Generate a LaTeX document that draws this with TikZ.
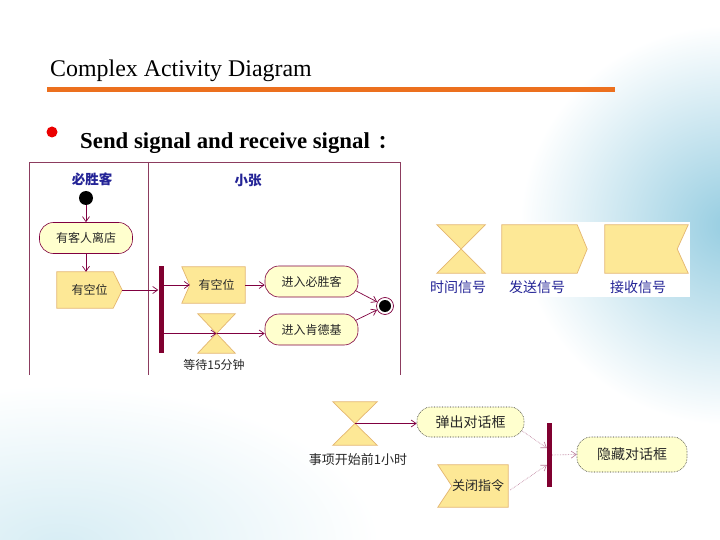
\documentclass[tikz,border=0pt]{standalone}
\usepackage{fontspec}
\setmainfont{Liberation Serif}
\newfontfamily\cjk{Noto Sans CJK SC}
\usetikzlibrary{arrows.meta,calc}
\definecolor{maroon}{RGB}{128,0,64}
\definecolor{barc}{RGB}{128,0,48}
\definecolor{lanec}{RGB}{140,60,95}
\definecolor{actfill}{RGB}{255,255,206}
\definecolor{sigfill}{RGB}{253,232,150}
\definecolor{sigline}{RGB}{228,182,112}
\definecolor{lblue}{RGB}{35,35,150}
\definecolor{orangeline}{RGB}{236,112,30}
\definecolor{bulletred}{RGB}{235,0,0}
\definecolor{txt}{RGB}{40,40,40}
\definecolor{faint}{RGB}{185,120,150}
\definecolor{bgblue}{RGB}{150,205,225}
\definecolor{bgblue2}{RGB}{215,237,244}
\pgfdeclarelayer{bg}
\pgfsetlayers{bg,main}
\newcommand\sendshape[2]{(#1.north west) -- ($(#1.north east)+(-#2,0)$) -- (#1.east) -- ($(#1.south east)+(-#2,0)$) -- (#1.south west) -- cycle}
\newcommand\recvL[2]{(#1.north west) -- (#1.north east) -- (#1.south east) -- (#1.south west) -- ($(#1.west)+(#2,0)$) -- cycle}
\newcommand\recvR[2]{(#1.north west) -- (#1.north east) -- ($(#1.east)+(-#2,0)$) -- (#1.south east) -- (#1.south west) -- cycle}
\newcommand\hglass[1]{(#1.north west) -- (#1.north east) -- (#1.south west) -- (#1.south east) -- cycle}
\tikzset{
  arr/.style={draw=maroon, line width=0.7pt, -{Straight Barb[length=5pt,width=7pt]}},
  arrfaint/.style={draw=faint, line width=0.6pt, densely dotted, -{Straight Barb[length=5pt,width=7pt]}},
  act/.style={draw=maroon, line width=0.6pt, fill=actfill, rounded corners=14pt, minimum height=31pt, inner sep=0pt, text=txt, font=\cjk\fontsize{12}{12}\selectfont},
  actdot/.style={act, densely dotted, draw=txt, font=\cjk\fontsize{14}{14}\selectfont},
  sigbox/.style={inner sep=0pt, text=txt, font=\cjk\fontsize{12}{12}\selectfont},
  sigshape/.style={fill=sigfill, draw=sigline, line width=0.7pt},
  barnode/.style={fill=barc, inner sep=0pt, minimum width=5pt},
  lanehead/.style={text=lblue, font=\cjk\bfseries\fontsize{13.5}{14}\selectfont},
  symlabel/.style={text=lblue, font=\cjk\fontsize{14}{14}\selectfont},
  plainlabel/.style={text=txt, font=\cjk\fontsize{12}{12}\selectfont},
  lane/.style={draw=lanec, line width=0.7pt}
}
\begin{document}
\begin{tikzpicture}[x=1pt,y=-1pt]
\useasboundingbox (0,0) rectangle (720,540);
% background
\begin{pgfonlayer}{bg}
\begin{scope}
\clip (0,0) rectangle (720,540);
\fill[white] (0,0) rectangle (720,540);
\shade[inner color=bgblue, outer color=white] (730,225) ellipse (210 and 200);
\shade[inner color=bgblue2, outer color=white] (60,545) ellipse (320 and 160);
\end{scope}
\fill[white] (27,160) rectangle (401,375);
\fill[white] (423,222) rectangle (690,297);
\end{pgfonlayer}
% title
\node[anchor=base west, inner sep=0pt, font=\fontsize{23.9}{24}\selectfont] (title) at (50,77) {Complex Activity Diagram};
\draw[orangeline, line width=5pt] (47,90) -- (615,90);
\fill[bulletred] (52,132) circle (5.5);
\node[anchor=base west, inner sep=0pt, font=\bfseries\fontsize{22.8}{23}\selectfont] (sub) at (80,149) {Send signal and receive signal\hspace{9pt}{\cjk\bfseries\fontsize{18}{18}\selectfont ：}};
% swimlane frame
\draw[lane] (29,375) -- (29,162) -- (400,162) -- (400,375);
\draw[lane] (148,162) -- (148,375);
\node[lanehead] (lane1) at (92,179) {必胜客};
\node[lanehead] (lane2) at (248,180) {小张};
% top-left nodes
\fill[black] (86,198) circle (7);
\coordinate (start) at (86,198);
\node[act, minimum width=93pt] (a1) at (86,238) {有客人离店};
\node[sigbox, minimum width=65pt, minimum height=36pt] (s1) at (89.5,290) {有空位\hspace{6pt}};
\node[barnode, minimum height=87pt] (fork1) at (161,309.5) {};
\node[sigbox, minimum width=63pt, minimum height=36pt] (r1) at (213.5,285) {\hspace{6pt}有空位};
\node[sigbox, minimum width=37pt, minimum height=39pt] (h1) at (216.5,333.5) {};
\node[plainlabel] (h1l) at (214,365) {等待15分钟};
\node[act, minimum width=93pt] (a3) at (311.5,281.5) {进入必胜客};
\node[act, minimum width=93pt] (a4) at (311.5,329.5) {进入肯德基};
\node[circle, draw=maroon, line width=0.7pt, minimum size=17pt, inner sep=0pt] (fin) at (385,306) {};
\fill[black] (fin.center) circle (6);
\begin{pgfonlayer}{bg}
\filldraw[sigshape] \sendshape{s1}{9};
\filldraw[sigshape] \recvL{r1}{8};
\filldraw[sigshape] \hglass{h1};
\end{pgfonlayer}
\draw[arr] ($(start)+(0,7)$) -- (a1.north);
\draw[arr] (a1.south) -- (a1.south |- s1.north);
\draw[arr] (s1.east) -- (s1.east -| fork1.west);
\draw[arr] (fork1.east |- r1.west) -- ($(r1.west)+(8,0)$);
\draw[arr] (fork1.east |- h1.center) -- (h1.center);
\draw[arr] (r1.east) -- (r1.east -| a3.west);
\draw[arr] (h1.center) -- (h1.center -| a4.west);
\draw[arr] ($(a3.east)+(-3,9)$) -- (fin);
\draw[arr] ($(a4.east)+(-3,-9)$) -- (fin);
% right symbol legend
\node[sigbox, minimum width=48pt, minimum height=48pt] (t1) at (461,249) {};
\node[sigbox, minimum width=85pt, minimum height=48pt] (t2) at (544.5,249) {};
\node[sigbox, minimum width=83pt, minimum height=48pt] (t3) at (646.5,249) {};
\begin{pgfonlayer}{bg}
\filldraw[sigshape] \hglass{t1};
\filldraw[sigshape] \sendshape{t2}{10};
\filldraw[sigshape] \recvR{t3}{11};
\end{pgfonlayer}
\node[symlabel] (t1l) at (458,287) {时间信号};
\node[symlabel] (t2l) at (537,287) {发送信号};
\node[symlabel] (t3l) at (638,287) {接收信号};
% bottom diagram
\node[sigbox, minimum width=44pt, minimum height=43pt] (ht) at (355,423.5) {};
\node[plainlabel, font=\cjk\fontsize{13}{13}\selectfont] (htl) at (358,460) {事项开始前1小时};
\node[actdot, minimum width=107pt, minimum height=30pt] (b1) at (470.5,422) {弹出对话框};
\node[sigbox, minimum width=70pt, minimum height=42pt, font=\cjk\fontsize{13}{13}\selectfont] (b2) at (473,486) {\hspace{10pt}关闭指令};
\node[barnode, minimum height=64pt] (bar2) at (549.5,455) {};
\node[actdot, minimum width=110pt, minimum height=35pt] (b3) at (632,454.5) {隐藏对话框};
\begin{pgfonlayer}{bg}
\filldraw[sigshape] \hglass{ht};
\filldraw[sigshape] \recvL{b2}{14};
\end{pgfonlayer}
\draw[arr] (ht.center) -- (ht.center -| b1.west);
\draw[arrfaint] ($(b1.east)+(-2,9)$) -- ($(bar2.west)+(0,-7)$);
\draw[arrfaint] ($(b2.east)+(2,4)$) -- ($(bar2.west)+(0,10)$);
\draw[arrfaint] (bar2.east) -- (b3.west);
\end{tikzpicture}
\end{document}
